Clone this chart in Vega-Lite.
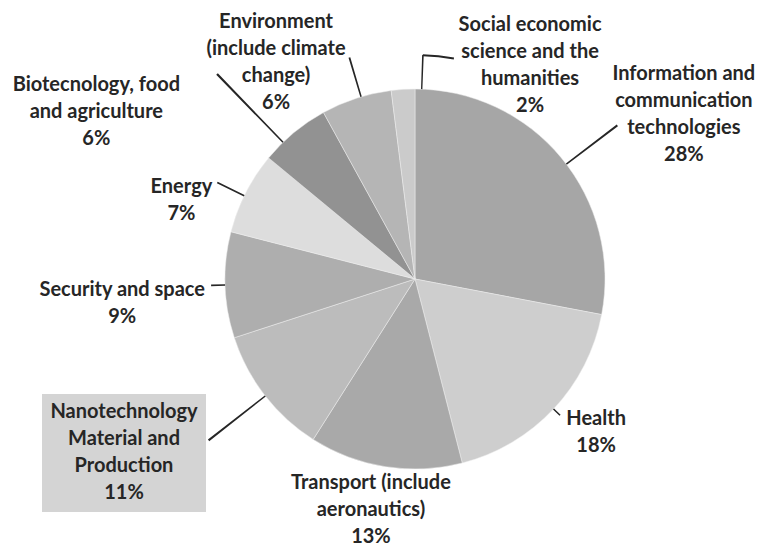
{
  "$schema": "https://vega.github.io/schema/vega-lite/v6.json",
  "width": 688,
  "height": 538,
  "autosize": {"type": "none"},
  "padding": {"left": 71, "top": 10, "right": 0, "bottom": 0},
  "background": "#ffffff",
  "config": {"view": {"stroke": null}, "text": {"align": "center", "baseline": "middle", "lineBreak": "\n", "lineHeight": 27, "font": "Lato", "fontSize": 20, "fontWeight": "bold", "color": "#262626"}},
  "data": {"values": [
    {"category": "Information and communication technologies", "share": 28, "label": "Information and\ncommunication\ntechnologies\n28%"},
    {"category": "Health", "share": 18, "label": "Health\n18%"},
    {"category": "Transport (include aeronautics)", "share": 13, "label": "Transport (include\naeronautics)\n13%"},
    {"category": "Nanotechnology Material and Production", "share": 11, "label": "Nanotechnology\nMaterial and\nProduction\n11%"},
    {"category": "Security and space", "share": 9, "label": "Security and space\n9%"},
    {"category": "Energy", "share": 7, "label": "Energy\n7%"},
    {"category": "Biotecnology, food and agriculture", "share": 6, "label": "Biotecnology, food\nand agriculture\n6%"},
    {"category": "Environment (include climate change)", "share": 6, "label": "Environment\n(include climate\nchange)\n6%"},
    {"category": "Social economic science and the humanities", "share": 2, "label": "Social economic\nscience and the\nhumanities\n2%"}
  ]},
  "transform": [
    {"stack": "share", "groupby": [], "sort": [{"field": "share", "order": "descending"}, {"field": "category", "order": "ascending"}], "as": ["s0", "s1"]}
  ],
  "layer": [
    {
      "mark": {"type": "arc", "radius": 190, "stroke": "#eeeeee", "strokeWidth": 0.5},
      "encoding": {
        "theta": {"field": "s0", "type": "quantitative", "stack": null, "scale": {"domain": [0, 100]}},
        "theta2": {"field": "s1"},
        "color": {
          "field": "category", "type": "nominal",
          "scale": {
            "domain": ["Information and communication technologies", "Health", "Transport (include aeronautics)", "Nanotechnology Material and Production", "Security and space", "Energy", "Biotecnology, food and agriculture", "Environment (include climate change)", "Social economic science and the humanities"],
            "range": ["#a6a6a6", "#cecece", "#a9a9a9", "#bcbcbc", "#aeaeae", "#dddddd", "#929292", "#b5b5b5", "#cbcbcb"]
          },
          "legend": {
            "orient": "none", "legendX": -29, "legendY": 384,
            "values": ["Nanotechnology Material and Production"],
            "title": ["Nanotechnology", "Material and", "Production", "11%"],
            "titleFont": "Lato", "titleFontSize": 20, "titleFontWeight": "bold", "titleColor": "#262626",
            "titleAlign": "center", "titleAnchor": "middle", "titleLineHeight": 27, "titlePadding": 0,
            "fillColor": "#d4d4d4", "padding": 8,
            "symbolSize": 0, "symbolOpacity": 0, "symbolStrokeWidth": 0,
            "labelExpr": "''", "labelFontSize": 1
          }
        }
      }
    },
    {"transform": [{"filter": "datum.category === 'Information and communication technologies'"}],
     "mark": {"type": "arc", "radius": 254, "radius2": 190, "thetaOffset": 0.91753, "theta2Offset": -0.83376, "color": "#262626"},
     "encoding": {"theta": {"field": "s0", "type": "quantitative", "stack": null, "scale": {"domain": [0, 100]}}, "theta2": {"field": "s1"}}},
    {"transform": [{"filter": "datum.category === 'Health'"}],
     "mark": {"type": "arc", "radius": 199, "radius2": 190, "thetaOffset": 0.56149, "theta2Offset": -0.56149, "color": "#262626"},
     "encoding": {"theta": {"field": "s0", "type": "quantitative", "stack": null, "scale": {"domain": [0, 100]}}, "theta2": {"field": "s1"}}},
    {"transform": [{"filter": "datum.category === 'Nanotechnology Material and Production'"}],
     "mark": {"type": "arc", "radius": 262, "radius2": 190, "thetaOffset": 0.33808, "theta2Offset": -0.34507, "color": "#262626"},
     "encoding": {"theta": {"field": "s0", "type": "quantitative", "stack": null, "scale": {"domain": [0, 100]}}, "theta2": {"field": "s1"}}},
    {"transform": [{"filter": "datum.category === 'Security and space'"}],
     "mark": {"type": "arc", "radius": 204, "radius2": 190, "thetaOffset": 0.27877, "theta2Offset": -0.27872, "color": "#262626"},
     "encoding": {"theta": {"field": "s0", "type": "quantitative", "stack": null, "scale": {"domain": [0, 100]}}, "theta2": {"field": "s1"}}},
    {"transform": [{"filter": "datum.category === 'Energy'"}],
     "mark": {"type": "arc", "radius": 220, "radius2": 190, "thetaOffset": 0.19845, "theta2Offset": -0.23337, "color": "#262626"},
     "encoding": {"theta": {"field": "s0", "type": "quantitative", "stack": null, "scale": {"domain": [0, 100]}}, "theta2": {"field": "s1"}}},
    {"transform": [{"filter": "datum.category === 'Biotecnology, food and agriculture'"}],
     "mark": {"type": "arc", "radius": 285, "radius2": 190, "thetaOffset": 0.10770, "theta2Offset": -0.26129, "color": "#262626"},
     "encoding": {"theta": {"field": "s0", "type": "quantitative", "stack": null, "scale": {"domain": [0, 100]}}, "theta2": {"field": "s1"}}},
    {"transform": [{"filter": "datum.category === 'Environment (include climate change)'"}],
     "mark": {"type": "arc", "radius": 231, "radius2": 190, "thetaOffset": 0.21068, "theta2Offset": -0.15831, "color": "#262626"},
     "encoding": {"theta": {"field": "s0", "type": "quantitative", "stack": null, "scale": {"domain": [0, 100]}}, "theta2": {"field": "s1"}}},
    {"transform": [{"filter": "datum.category === 'Social economic science and the humanities'"}],
     "mark": {"type": "arc", "radius": 224, "radius2": 190, "thetaOffset": 0.15741, "theta2Offset": 0.03891, "color": "#262626"},
     "encoding": {"theta": {"field": "s0", "type": "quantitative", "stack": null, "scale": {"domain": [0, 100]}}, "theta2": {"field": "s1"}}},
    {"transform": [{"filter": "datum.category === 'Social economic science and the humanities'"}],
     "mark": {"type": "arc", "radius": 225, "radius2": 223, "thetaOffset": 0.16058, "theta2Offset": 0.17453, "color": "#262626"},
     "encoding": {"theta": {"field": "s0", "type": "quantitative", "stack": null, "scale": {"domain": [0, 100]}}, "theta2": {"field": "s1"}}},
    {"transform": [{"filter": "datum.category === 'Information and communication technologies'"}],
     "mark": {"type": "text", "radius": 338, "thetaOffset": 0.91962},
     "encoding": {"theta": {"field": "s0", "type": "quantitative", "scale": {"domain": [0, 100]}}, "text": {"field": "label"}}},
    {"transform": [{"filter": "datum.category === 'Health'"}],
     "mark": {"type": "text", "radius": 229, "thetaOffset": 0.46984},
     "encoding": {"theta": {"field": "s0", "type": "quantitative", "scale": {"domain": [0, 100]}}, "text": {"field": "label"}}},
    {"transform": [{"filter": "datum.category === 'Transport (include aeronautics)'"}],
     "mark": {"type": "text", "radius": 209, "thetaOffset": 0.46373},
     "encoding": {"theta": {"field": "s0", "type": "quantitative", "scale": {"domain": [0, 100]}}, "text": {"field": "label"}}},
    {"transform": [{"filter": "datum.category === 'Security and space'"}],
     "mark": {"type": "text", "radius": 293, "thetaOffset": 0.27663},
     "encoding": {"theta": {"field": "s0", "type": "quantitative", "scale": {"domain": [0, 100]}}, "text": {"field": "label"}}},
    {"transform": [{"filter": "datum.category === 'Energy'"}],
     "mark": {"type": "text", "radius": 251, "thetaOffset": 0.12322},
     "encoding": {"theta": {"field": "s0", "type": "quantitative", "scale": {"domain": [0, 100]}}, "text": {"field": "label"}}},
    {"transform": [{"filter": "datum.category === 'Biotecnology, food and agriculture'"}],
     "mark": {"type": "text", "radius": 373, "thetaOffset": -0.14469},
     "encoding": {"theta": {"field": "s0", "type": "quantitative", "scale": {"domain": [0, 100]}}, "text": {"field": "label"}}},
    {"transform": [{"filter": "datum.category === 'Environment (include climate change)'"}],
     "mark": {"type": "text", "radius": 292, "thetaOffset": 0.00681},
     "encoding": {"theta": {"field": "s0", "type": "quantitative", "scale": {"domain": [0, 100]}}, "text": {"field": "label"}}},
    {"transform": [{"filter": "datum.category === 'Social economic science and the humanities'"}],
     "mark": {"type": "text", "radius": 279, "thetaOffset": 0.55082},
     "encoding": {"theta": {"field": "s0", "type": "quantitative", "scale": {"domain": [0, 100]}}, "text": {"field": "label"}}}
  ]
}
